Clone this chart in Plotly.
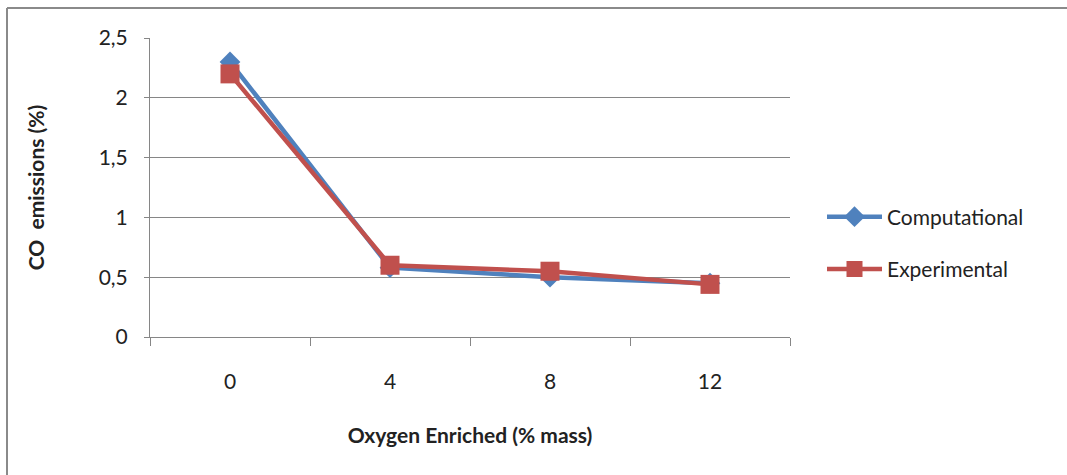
import plotly.graph_objects as go

categories = ["0", "4", "8", "12"]
computational = [2.30, 0.58, 0.50, 0.45]
experimental = [2.20, 0.60, 0.55, 0.44]
y_ticks = [0, 0.5, 1, 1.5, 2, 2.5]
y_tick_labels = ["0", "0,5", "1", "1,5", "2", "2,5"]

BLUE = "#4F81BD"
RED = "#C0504D"
GRID = "#868686"
FONT = "Lato, 'Open Sans', sans-serif"

fig = go.Figure()
fig.add_trace(go.Scatter(
    x=categories, y=computational, name="Computational", mode="lines+markers",
    line=dict(color=BLUE, width=4.5), marker=dict(symbol="diamond", size=16, color=BLUE),
    legendgroup="a",
))
fig.add_trace(go.Scatter(
    x=categories, y=experimental, name="Experimental", mode="lines+markers",
    line=dict(color=RED, width=4.5), marker=dict(symbol="square", size=19, color=RED),
    legendgroup="b",
))

pw, ph = 1067 - 150 - 277, 475 - 38 - 138

fig.update_layout(
    width=1067, height=475,
    margin=dict(l=150, r=277, t=38, b=138),
    paper_bgcolor="white", plot_bgcolor="white",
    font=dict(family=FONT, size=21, color="#222"),
    showlegend=True,
    legend=dict(x=1.05, y=(337 - 243) / ph, xanchor="left", yanchor="middle",
                font=dict(size=21), itemwidth=55, tracegroupgap=22,
                bgcolor="rgba(0,0,0,0)"),
    xaxis=dict(
        type="category", range=[-0.5, 3.5], tickson="boundaries",
        ticks="outside", ticklen=8, tickcolor=GRID, tickwidth=1,
        showline=True, linecolor=GRID, linewidth=1,
        showgrid=False, ticklabelstandoff=26,
        title=dict(text="<b>Oxygen Enriched (% mass)</b>", font=dict(size=21), standoff=36),
    ),
    yaxis=dict(
        range=[0, 2.5], tickvals=y_ticks, ticktext=y_tick_labels,
        ticks="outside", ticklen=5, tickcolor=GRID,
        showline=True, linecolor=GRID, linewidth=1,
        showgrid=True, gridcolor=GRID, gridwidth=1, zeroline=False,
        ticklabelstandoff=12,
        title=dict(text="<b>CO  emissions (%)</b>", font=dict(size=21), standoff=48),
    ),
    shapes=[
        dict(type="line", xref="paper", yref="paper",
             x0=(7 - 150) / pw, x1=(1067 - 150) / pw,
             y0=(475 - 138 - 8) / ph, y1=(475 - 138 - 8) / ph,
             line=dict(color="#8a8a8a", width=2)),
        dict(type="line", xref="paper", yref="paper",
             x0=(7 - 150) / pw, x1=(7 - 150) / pw,
             y0=(475 - 138 - 8) / ph, y1=(475 - 138 - 480) / ph,
             line=dict(color="#8a8a8a", width=2)),
    ],
)

fig.write_html("out.html")
